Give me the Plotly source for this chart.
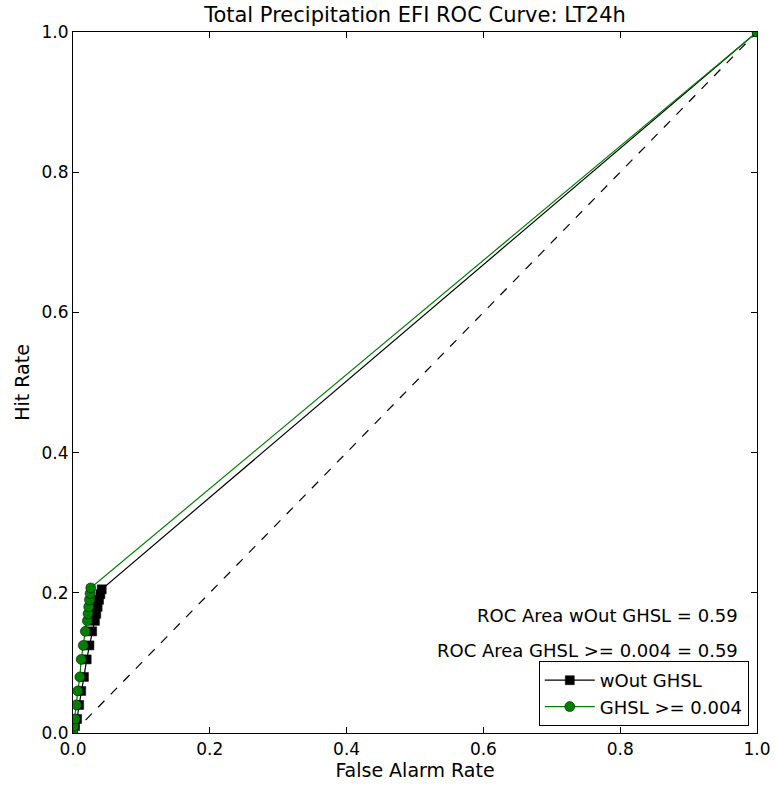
import plotly.graph_objects as go

# False alarm rate / hit rate, wOut GHSL (black squares)
far_wout = [0.0, 0.003, 0.006, 0.009, 0.012, 0.016, 0.020, 0.024, 0.028, 0.032, 0.034, 0.036, 0.038, 0.040, 0.042, 1.0]
hr_wout = [0.0, 0.01, 0.02, 0.04, 0.06, 0.08, 0.105, 0.125, 0.145, 0.16, 0.17, 0.18, 0.19, 0.198, 0.205, 1.0]

# GHSL >= 0.004 (green circles)
far_ghsl = [0.0, 0.001, 0.003, 0.005, 0.007, 0.010, 0.012, 0.015, 0.018, 0.021, 0.022, 0.023, 0.024, 0.025, 0.026, 1.0]
hr_ghsl = [0.0, 0.01, 0.02, 0.04, 0.06, 0.08, 0.105, 0.125, 0.145, 0.16, 0.17, 0.18, 0.19, 0.199, 0.207, 1.0]

diag = [0.0, 1.0]
xticks = [0.0, 0.2, 0.4, 0.6, 0.8, 1.0]
yticks = [0.0, 0.2, 0.4, 0.6, 0.8, 1.0]
tick_labels = ["0.0", "0.2", "0.4", "0.6", "0.8", "1.0"]

font_family = "DejaVu Sans"

fig = go.Figure()
fig.add_trace(go.Scatter(x=diag, y=diag, mode="lines", showlegend=False,
                         line=dict(color="black", dash="dash", width=1.2), hoverinfo="skip"))
fig.add_trace(go.Scatter(x=far_wout, y=hr_wout, mode="lines+markers", name="wOut GHSL",
                         line=dict(color="black", width=1.2),
                         marker=dict(symbol="square", size=9, color="black",
                                     line=dict(color="black", width=0.5))))
fig.add_trace(go.Scatter(x=far_ghsl, y=hr_ghsl, mode="lines+markers", name="GHSL >= 0.004",
                         line=dict(color="#008000", width=1.2),
                         marker=dict(symbol="circle", size=10, color="#008000",
                                     line=dict(color="black", width=0.5))))

axis_common = dict(range=[0, 1], showgrid=False, zeroline=False, ticks="inside", ticklen=6,
                   tickcolor="black", mirror="ticks", showline=True, linecolor="black",
                   linewidth=1.2, automargin=False,
                   tickfont=dict(size=17, color="black", family=font_family))

fig.update_layout(
    width=775, height=790,
    margin=dict(l=73, r=18, t=32, b=57),
    paper_bgcolor="white", plot_bgcolor="white",
    font=dict(family=font_family, color="black"),
    title=dict(text="Total Precipitation EFI ROC Curve: LT24h", x=(73 + 757) / 2 / 775, xanchor="center",
               y=1 - 15 / 790, yanchor="middle", font=dict(size=21, color="black")),
    xaxis=dict(**axis_common, tickvals=xticks, ticktext=tick_labels,
               title=dict(text="False Alarm Rate", font=dict(size=19), standoff=6)),
    yaxis=dict(**axis_common, tickvals=yticks, ticktext=tick_labels,
               title=dict(text="Hit Rate", font=dict(size=19), standoff=6)),
    legend=dict(x=0.988, y=0.01, xanchor="right", yanchor="bottom", bordercolor="black",
                borderwidth=1, bgcolor="white", font=dict(size=18, color="black"),
                itemwidth=50, tracegroupgap=0),
    annotations=[
        dict(text="ROC Area wOut GHSL = 0.59", x=0.975, y=0.168, xref="paper", yref="paper",
             xanchor="right", yanchor="middle", showarrow=False, font=dict(size=18, color="black")),
        dict(text="ROC Area GHSL >= 0.004 = 0.59", x=0.975, y=0.118, xref="paper", yref="paper",
             xanchor="right", yanchor="middle", showarrow=False, font=dict(size=18, color="black")),
    ],
)

fig.write_html("out.html")
